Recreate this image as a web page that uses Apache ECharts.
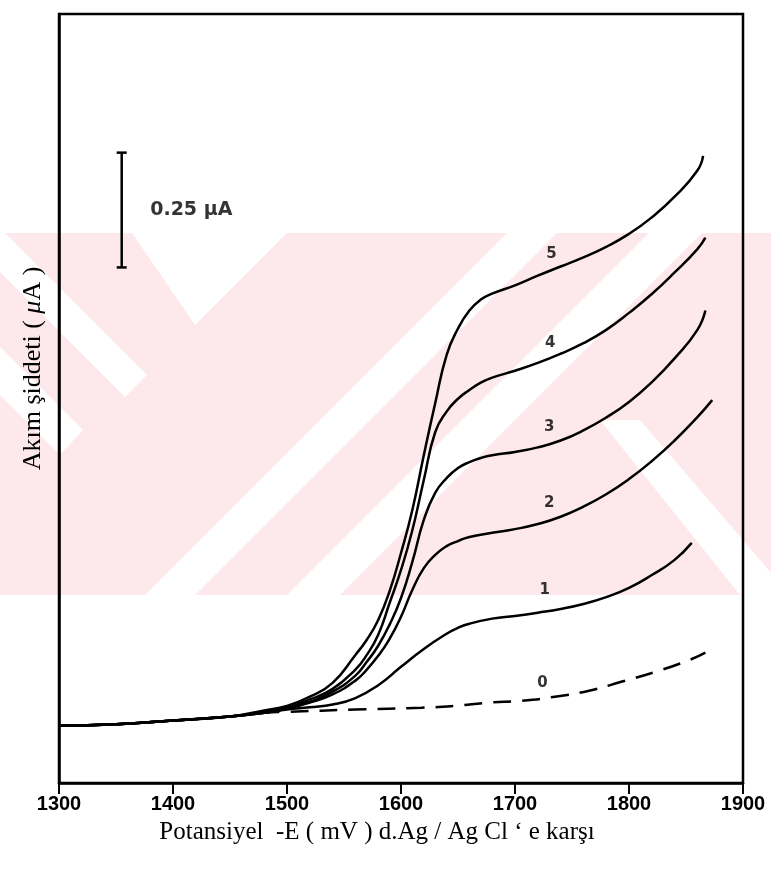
<!DOCTYPE html>
<html><head><meta charset="utf-8">
<script src="https://cdn.jsdelivr.net/npm/echarts@6/dist/echarts.min.js"></script>
<style>html,body{margin:0;padding:0;background:#fff}#c{width:771px;height:870px}</style>
</head><body><div id="c"></div>
<script>
// x-axis ticks (mV)
const xTicks = [1300, 1400, 1500, 1600, 1700, 1800, 1900];

// Curve 0 (dashed, blank)
const potC0 = [1300,1350,1400,1450,1480,1500,1560,1618,1647,1677,1706,1735,1765,1794,1823,1853,1867];
const curC0 = [0,0.003,0.011,0.020,0.028,0.030,0.035,0.039,0.043,0.050,0.054,0.063,0.076,0.096,0.117,0.143,0.159];

// Curve 1
const potC1 = [1300,1350,1400,1450,1480,1500,1520,1540,1560,1580,1600,1620,1640,1650,1660,1680,1700,1720,1740,1760,1780,1800,1820,1840,1855];
const curC1 = [0,0.003,0.011,0.020,0.028,0.035,0.040,0.046,0.060,0.088,0.128,0.167,0.200,0.213,0.222,0.233,0.239,0.246,0.254,0.265,0.280,0.300,0.328,0.361,0.398];

// Curve 2
const potC2 = [1300,1350,1400,1450,1480,1500,1520,1540,1560,1570,1580,1590,1600,1610,1620,1630,1640,1650,1660,1680,1700,1720,1740,1760,1780,1800,1820,1840,1860,1873];
const curC2 = [0,0.003,0.011,0.020,0.028,0.037,0.050,0.068,0.098,0.122,0.152,0.189,0.237,0.296,0.343,0.372,0.391,0.402,0.411,0.420,0.428,0.439,0.455,0.477,0.504,0.537,0.576,0.621,0.672,0.709];

// Curve 3
const potC3 = [1300,1350,1400,1450,1480,1500,1520,1540,1560,1570,1580,1590,1600,1610,1620,1630,1640,1650,1660,1670,1680,1700,1720,1740,1760,1780,1800,1820,1840,1860,1867];
const curC3 = [0,0.003,0.011,0.020,0.028,0.037,0.052,0.074,0.109,0.139,0.174,0.220,0.278,0.357,0.448,0.507,0.539,0.561,0.574,0.583,0.589,0.596,0.606,0.621,0.643,0.671,0.705,0.748,0.800,0.862,0.904];

// Curve 4
const potC4 = [1300,1350,1400,1450,1480,1500,1520,1540,1560,1570,1580,1590,1600,1610,1620,1630,1640,1650,1660,1670,1680,1700,1720,1740,1760,1780,1800,1820,1840,1860,1867];
const curC4 = [0,0.003,0.011,0.020,0.030,0.039,0.057,0.080,0.122,0.154,0.198,0.267,0.339,0.426,0.535,0.639,0.684,0.712,0.731,0.747,0.758,0.773,0.790,0.810,0.833,0.862,0.899,0.940,0.987,1.038,1.063];

// Curve 5
const potC5 = [1300,1350,1400,1450,1480,1500,1520,1540,1560,1570,1580,1590,1600,1610,1620,1630,1640,1650,1660,1670,1680,1700,1720,1740,1760,1780,1800,1820,1840,1860,1865];
const curC5 = [0,0.003,0.011,0.020,0.033,0.043,0.063,0.093,0.154,0.187,0.230,0.293,0.376,0.470,0.589,0.702,0.807,0.865,0.904,0.928,0.941,0.959,0.980,1.000,1.020,1.043,1.071,1.107,1.152,1.209,1.241];

// Curve labels
const curveLabelPot = [1724, 1726, 1730, 1730, 1731, 1732];
const curveLabelCur = [0.093, 0.296, 0.485, 0.650, 0.833, 1.028];
const curveLabelTxt = ['0', '1', '2', '3', '4', '5'];

// Scale bar (0.25 µA)
const scaleBarPot = 1355;
const scaleBarCur = [0.998, 1.248];
const scaleBarText = '0.25 μA';

const zip = (xs, ys) => xs.map((x, i) => [x, ys[i]]);

const chart = echarts.init(document.getElementById('c'), null, {renderer: 'canvas'});

const pink = '#fde8ec';
const wm = (pts) => ({type: 'polygon', z: -10, silent: true, shape: {points: pts}, style: {fill: '#ffffff'}});

const lineStyleBase = {color: '#000', width: 2.5};
const curveSeries = (name, xs, ys, dashed) => ({
  name, type: 'line', data: zip(xs, ys), showSymbol: false, smooth: 0.5,
  lineStyle: Object.assign({}, lineStyleBase, dashed ? {type: [18, 11]} : {}),
  z: dashed ? 3 : 4, animation: false
});

chart.setOption({
  animation: false,
  backgroundColor: '#ffffff',
  graphic: [
    {type: 'rect', z: -11, silent: true, shape: {x: 0, y: 233, width: 771, height: 362}, style: {fill: pink}},
    wm([[132,233],[287,233],[195,325]]),
    wm([[0,233],[5,233],[147,375],[125,397],[0,272]]),
    wm([[0,347],[83,430],[60,455],[0,395]]),
    wm([[507,233],[557,233],[195,595],[145,595]]),
    wm([[649,233],[702,233],[340,595],[287,595]]),
    wm([[600,420],[640,420],[790,595],[740,595]])
  ],
  grid: {left: 59, right: 28, top: 14, bottom: 87, show: true, borderColor: '#000', borderWidth: 2.5, backgroundColor: 'transparent'},
  xAxis: {
    type: 'value', min: xTicks[0], max: xTicks[xTicks.length - 1], interval: 100,
    axisLine: {show: true, onZero: false, lineStyle: {color: '#000', width: 2.5}},
    axisTick: {show: true, inside: false, length: 11, lineStyle: {color: '#000', width: 2}},
    axisLabel: {show: true, margin: 11, color: '#000', fontFamily: 'Liberation Sans', fontWeight: 'bold', fontSize: 20,
      formatter: v => xTicks.includes(v) ? String(v) : ''},
    splitLine: {show: false},
    name: 'Potansiyel  -E ( mV ) d.Ag / Ag Cl ‘ e karşı',
    nameLocation: 'middle', nameGap: 37,
    nameTextStyle: {fontFamily: 'Liberation Serif', fontSize: 25, color: '#000', padding: [0, 48, 0, 0]}
  },
  yAxis: {
    type: 'value', min: -0.125, max: 1.55,
    axisLine: {show: true, onZero: false, lineStyle: {color: '#000', width: 2.5}},
    axisTick: {show: false}, axisLabel: {show: false}, splitLine: {show: false},
    name: '{a|Akım şiddeti ( }{b|μ}{a|A )}', nameLocation: 'middle', nameGap: 13, nameRotate: 90,
    nameTextStyle: {padding: [0, 0, 0, 60],
      rich: {a: {fontFamily: 'Liberation Serif', fontSize: 26, color: '#000'},
             b: {fontFamily: 'Liberation Serif', fontSize: 26, fontStyle: 'italic', color: '#000'}}}
  },
  series: [
    curveSeries('0', potC0, curC0, true),
    curveSeries('1', potC1, curC1, false),
    curveSeries('2', potC2, curC2, false),
    curveSeries('3', potC3, curC3, false),
    curveSeries('4', potC4, curC4, false),
    curveSeries('5', potC5, curC5, false),
    {
      name: 'labels', type: 'scatter', symbolSize: 0, z: 5, animation: false,
      data: curveLabelPot.map((p, i) => [p, curveLabelCur[i], curveLabelTxt[i]]),
      label: {show: true, position: 'inside', formatter: p => p.value[2], color: '#000',
        fontFamily: 'DejaVu Sans', fontWeight: 'bold', fontSize: 15}
    },
    {
      name: 'scale', type: 'line', z: 5, animation: false,
      data: scaleBarCur.map(c => [scaleBarPot, c]),
      symbol: 'rect', symbolSize: [10, 2.5], showSymbol: true,
      itemStyle: {color: '#000'}, lineStyle: {color: '#000', width: 2.5}
    },
    {
      name: 'scaleText', type: 'scatter', symbolSize: 0, z: 5, animation: false,
      data: [[scaleBarPot + 25, (scaleBarCur[0] + scaleBarCur[1]) / 2]],
      label: {show: true, position: 'right', distance: 0, formatter: scaleBarText, color: '#000',
        fontFamily: 'DejaVu Sans', fontWeight: 'bold', fontSize: 19}
    }
  ]
});
</script></body></html>
